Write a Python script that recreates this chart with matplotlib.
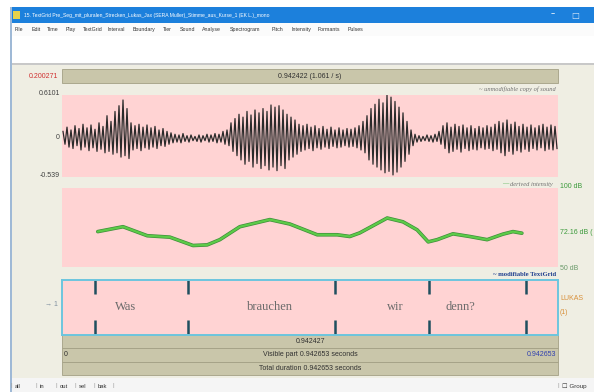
import numpy as np
import matplotlib
matplotlib.use("Agg")
import matplotlib.pyplot as plt
from matplotlib.patches import Rectangle

# ---------------- data ----------------
duration = 0.942653
amp_max = 0.6101
amp_min = -0.539

# waveform envelope read column by column (upper / lower peaks)
wave_top = [0.10, 0.16, 0.12, 0.18, 0.14, 0.20, 0.15, 0.19, 0.13, 0.22,
            0.17, 0.32, 0.24, 0.38, 0.46, 0.54, 0.42, 0.22, 0.18, 0.20,
            0.16, 0.19, 0.15, 0.17, 0.12, 0.14, 0.10, 0.08, 0.06, 0.05,
            0.07, 0.04, 0.05, 0.03, 0.05, 0.04, 0.06, 0.05, 0.07, 0.06,
            0.10, 0.12, 0.22, 0.28, 0.34, 0.30, 0.38, 0.33, 0.40, 0.36,
            0.42, 0.38, 0.47, 0.44, 0.46, 0.40, 0.34, 0.30, 0.26, 0.20,
            0.18, 0.20, 0.16, 0.18, 0.14, 0.17, 0.13, 0.16, 0.12, 0.15,
            0.12, 0.14, 0.13, 0.15, 0.18, 0.24, 0.32, 0.42, 0.48, 0.55,
            0.50, 0.61, 0.58, 0.52, 0.44, 0.36, 0.24, 0.12, 0.06, 0.04,
            0.03, 0.05, 0.04, 0.06, 0.10, 0.18, 0.22, 0.16, 0.20, 0.17,
            0.19, 0.15, 0.18, 0.14, 0.17, 0.15, 0.18, 0.16, 0.20, 0.24,
            0.22, 0.26, 0.20, 0.23, 0.17, 0.20, 0.16, 0.19, 0.15, 0.18,
            0.20, 0.16, 0.19, 0.17]
wave_bot = [-0.08, -0.12, -0.14, -0.10, -0.16, -0.12, -0.17, -0.13, -0.18, -0.15,
            -0.20, -0.18, -0.22, -0.20, -0.26, -0.24, -0.28, -0.16, -0.14, -0.17,
            -0.13, -0.15, -0.12, -0.14, -0.10, -0.11, -0.08, -0.06, -0.05, -0.06,
            -0.04, -0.05, -0.03, -0.04, -0.05, -0.03, -0.05, -0.04, -0.06, -0.05,
            -0.08, -0.10, -0.18, -0.24, -0.30, -0.36, -0.32, -0.40, -0.35, -0.42,
            -0.38, -0.44, -0.40, -0.45, -0.38, -0.42, -0.30, -0.26, -0.22, -0.18,
            -0.16, -0.14, -0.17, -0.13, -0.15, -0.12, -0.14, -0.11, -0.13, -0.12,
            -0.10, -0.12, -0.11, -0.13, -0.16, -0.20, -0.30, -0.36, -0.40, -0.44,
            -0.48, -0.46, -0.51, -0.47, -0.40, -0.32, -0.22, -0.10, -0.05, -0.04,
            -0.03, -0.04, -0.05, -0.04, -0.08, -0.14, -0.20, -0.18, -0.15, -0.19,
            -0.14, -0.17, -0.15, -0.16, -0.13, -0.15, -0.14, -0.17, -0.15, -0.20,
            -0.24, -0.18, -0.22, -0.17, -0.19, -0.15, -0.18, -0.14, -0.16, -0.13,
            -0.17, -0.15, -0.16, -0.14]

# intensity contour (time s, dB)
int_time = [0.068, 0.116, 0.162, 0.205, 0.249, 0.276, 0.300, 0.338, 0.395,
            0.433, 0.485, 0.523, 0.547, 0.566, 0.618, 0.648, 0.675, 0.696,
            0.713, 0.743, 0.775, 0.808, 0.838, 0.857, 0.874]
int_db = [72.4, 75.5, 69.8, 68.9, 63.6, 64.0, 67.3, 75.5, 80.0,
          77.2, 70.4, 70.4, 69.3, 71.6, 81.0, 78.6, 73.5, 65.9,
          67.3, 71.0, 69.3, 67.3, 70.8, 72.4, 71.4]
db_min, db_max, db_mid = 50, 100, 72.16

# text grid tier
boundaries = [0.0627, 0.2395, 0.5188, 0.6975, 0.8818]
words = ["Was", "brauchen", "wir", "denn?"]
word_pos = [0.120, 0.395, 0.634, 0.758]
tier_name = "LUKAS"

menu_items = ["File", "Edit", "Time", "Play", "TextGrid", "Interval", "Boundary",
              "Tier", "Sound", "Analyse", "Spectrogram", "Pitch", "Intensity",
              "Formants", "Pulses"]
menu_x = [15, 32, 47, 66, 83, 108, 133, 163, 180, 202, 230, 272, 291, 318, 348]
buttons = ["all", "in", "out", "sel", "bak"]
button_x = [15, 40, 60, 79, 98]

# ---------------- figure ----------------
W, H = 594, 392
fig = plt.figure(figsize=(W / 100, H / 100), dpi=100)
fig.patch.set_facecolor("white")
bg = fig.add_axes([0, 0, 1, 1])
bg.set_xlim(0, W)
bg.set_ylim(H, 0)
bg.axis("off")

SANS = "Liberation Sans"
SERIF = "Liberation Serif"
BEIGE = "#EFEEE3"
OLIVE = "#C9C6AA"
OLIVE_EDGE = "#A3A085"
PINK = "#FFD3D3"

def rect(x0, y0, x1, y1, fc, ec="none", lw=0, z=1):
    bg.add_patch(Rectangle((x0, y0), x1 - x0, y1 - y0, facecolor=fc,
                           edgecolor=ec, linewidth=lw, zorder=z))

# window chrome
rect(10, 7, W, 23, "#1C80DC")
rect(13, 11, 20, 19, "#E8D24A")
bg.text(24, 15.5, "15. TextGrid Pre_Seg_mit_pluralen_Strecken_Lukas_Jax (SERA Muller)_Stimme_aus_Kurse_1 (EK L.)_mono",
        color="white", fontsize=3.6, family=SANS, va="center", ha="left")
bg.text(553, 14, "\u2013", color="white", fontsize=6, ha="center", va="center")
bg.text(575, 15, "\u25A1", color="#D8E8F8", fontsize=6, ha="center", va="center")
rect(10, 23, W, 36, "#FBFBFB")
for m, mx in zip(menu_items, menu_x):
    bg.text(mx, 29.5, m, fontsize=3.8, family=SANS, color="#333333",
            va="center", ha="left")
rect(10, 36, W, 63, "white")
rect(10, 63, W, 65, "#C8C8C8")
rect(10, 65, W, 378, BEIGE)
rect(10, 7, 12, 392, "#9FB9D6")
rect(12, 378, W, H, "#F5F5F5")

# olive bars
rect(62, 69, 558, 83, OLIVE, OLIVE_EDGE, 0.6)
bg.text(58, 76, "0.200271", color="#D03030", fontsize=5, family=SANS,
        ha="right", va="center")
bg.text(310, 76, "0.942422 (1.061 / s)", color="#303030", fontsize=5,
        family=SANS, ha="center", va="center")
rect(62, 335, 558, 348, OLIVE, OLIVE_EDGE, 0.6)
rect(62, 348, 558, 362, OLIVE, OLIVE_EDGE, 0.6)
rect(62, 362, 558, 375, OLIVE, OLIVE_EDGE, 0.6)
bg.text(310, 341.5, "0.942427", color="#303030", fontsize=5, family=SANS,
        ha="center", va="center")
bg.text(310, 355, "Visible part 0.942653 seconds", color="#303030",
        fontsize=5, family=SANS, ha="center", va="center")
bg.text(64, 355, "0", color="#303030", fontsize=5, family=SANS,
        ha="left", va="center")
bg.text(556, 355, "0.942653", color="#3040B0", fontsize=5, family=SANS,
        ha="right", va="center")
bg.text(310, 368.5, "Total duration 0.942653 seconds", color="#303030",
        fontsize=5, family=SANS, ha="center", va="center")

# panel captions
bg.text(556, 89, "~ unmodifiable copy of sound", color="#707070", fontsize=4.6,
        family=SERIF, style="italic", ha="right", va="center")
bg.text(553, 184, "derived intensity", color="#707070", fontsize=4.6,
        family=SERIF, style="italic", ha="right", va="center")
bg.text(508, 184, "\u2014", color="#3AAA3A", fontsize=4.6, family=SERIF,
        ha="right", va="center")
bg.text(556, 275, "~ modifiable TextGrid", color="#1F3F8F", fontsize=4.8,
        family=SERIF, ha="right", va="center", weight="bold")

# axis side labels
bg.text(60, 93, f"{amp_max:.4f}", color="#404040", fontsize=5, family=SANS,
        ha="right", va="center")
bg.text(60, 137, "0", color="#404040", fontsize=5, family=SANS,
        ha="right", va="center")
bg.text(60, 175, f"{amp_min:.3f}", color="#404040", fontsize=5, family=SANS,
        ha="right", va="center")
bg.text(560, 186, f"{db_max} dB", color="#3A9A3A", fontsize=5, family=SANS,
        ha="left", va="center")
bg.text(560, 232, f"{db_mid} dB (", color="#3A9A3A", fontsize=5, family=SANS,
        ha="left", va="center")
bg.text(560, 268, f"{db_min} dB", color="#6A9A6A", fontsize=5, family=SANS,
        ha="left", va="center")
bg.text(58, 305, "\u2192 1", color="#8090A0", fontsize=5, family=SANS,
        ha="right", va="center")
bg.text(560, 299, tier_name, color="#D8903A", fontsize=5, family=SANS,
        ha="left", va="center")
bg.text(560, 312, "(1)", color="#D8903A", fontsize=5, family=SANS,
        ha="left", va="center")

# bottom buttons
for b, bx in zip(buttons, button_x):
    bg.text(bx, 386, b, fontsize=4.2, family=SANS, color="#333333",
            ha="left", va="center")
    bg.text(bx - 4, 386, "|", fontsize=4.5, family=SANS, color="#A0A0A0",
            ha="center", va="center")
bg.text(113, 386, "|", fontsize=4.5, family=SANS, color="#A0A0A0",
        ha="center", va="center")
bg.text(558, 386, "|", fontsize=4.5, family=SANS, color="#A0A0A0",
        ha="center", va="center")
bg.text(562, 386, "\u2610 Group", fontsize=4.5, family=[SANS, "DejaVu Sans"],
        color="#333333", ha="left", va="center")

def px_axes(x0, y0, x1, y1):
    return fig.add_axes([x0 / W, 1 - y1 / H, (x1 - x0) / W, (y1 - y0) / H])

def clean(ax):
    ax.set_xticks([])
    ax.set_yticks([])
    for s in ax.spines.values():
        s.set_visible(False)

# ---------------- sound ----------------
ax_s = px_axes(62, 95, 558, 177)
ax_s.set_facecolor(PINK)
n = len(wave_top)
step = duration / n
t_top = np.arange(n) * step + 0.25 * step
t_bot = np.arange(n) * step + 0.75 * step
t_all = np.empty(2 * n)
v_all = np.empty(2 * n)
t_all[0::2], t_all[1::2] = t_top, t_bot
v_all[0::2], v_all[1::2] = wave_top, wave_bot
ax_s.plot(t_all, v_all, color="#2A2A2A", lw=0.9)
ax_s.set_xlim(0, duration)
ax_s.set_ylim(amp_min, amp_max)
clean(ax_s)

# ---------------- intensity ----------------
ax_i = px_axes(62, 188, 558, 267)
ax_i.set_facecolor(PINK)
ax_i.plot(int_time, int_db, color="#3E8E3A", lw=2.6, solid_capstyle="round")
ax_i.plot(int_time, int_db, color="#5CCB48", lw=1.6, solid_capstyle="round")
ax_i.set_xlim(0, duration)
ax_i.set_ylim(db_min, db_max)
clean(ax_i)

# ---------------- text grid ----------------
ax_t = px_axes(62, 280, 558, 335)
ax_t.set_facecolor(PINK)
ax_t.set_xlim(0, duration)
ax_t.set_ylim(0, 1)
ax_t.set_xticks([])
ax_t.set_yticks([])
for s in ax_t.spines.values():
    s.set_color("#6CC5DE")
    s.set_linewidth(1.4)
ax_t.vlines(boundaries, 0.74, 1.0, color="#1F4F5F", lw=1.8)
ax_t.vlines(boundaries, 0.0, 0.28, color="#1F4F5F", lw=1.8)
for w, p in zip(words, word_pos):
    ax_t.text(p, 0.5, w, family=SERIF, fontsize=9, color="#6A6A6A",
              ha="center", va="center")

fig.savefig("out.png", dpi=100, facecolor=fig.get_facecolor())
